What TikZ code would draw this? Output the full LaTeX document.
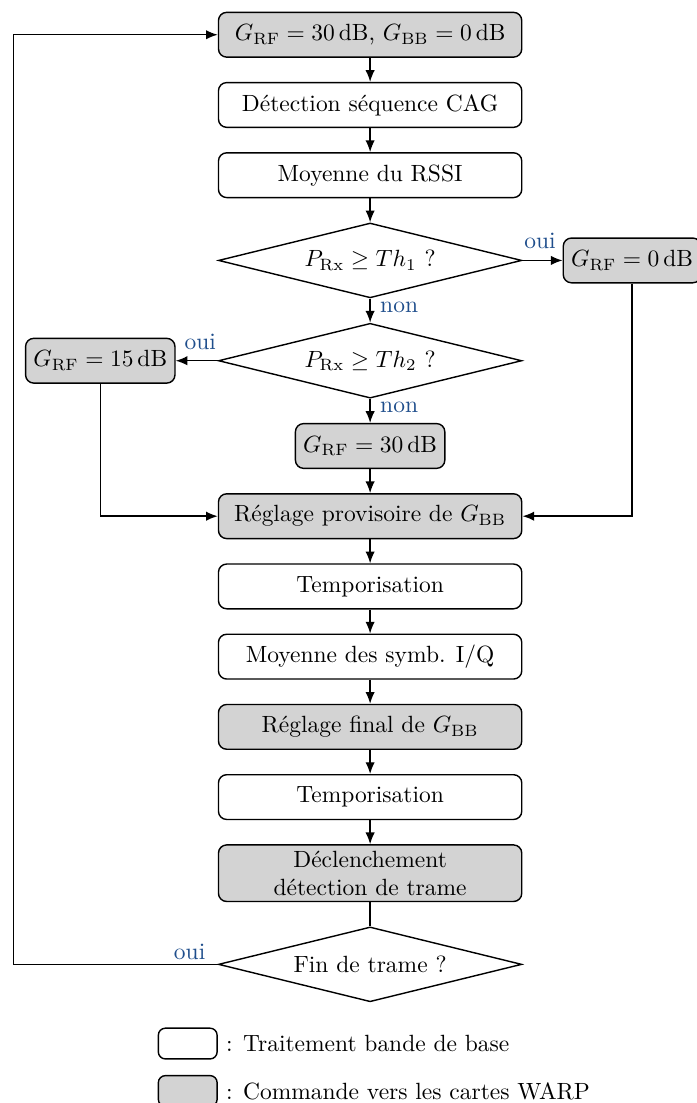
\documentclass[tikz,border=0pt]{standalone}
\usepackage{fontspec}
\usepackage{tikz}
\usetikzlibrary{arrows.meta,shapes.geometric,positioning}
\definecolor{cmdgray}{HTML}{D3D3D3}
\definecolor{labelblue}{HTML}{1F4E8C}
\tikzset{
  proc/.style={
    rectangle, rounded corners=3.5pt,
    draw=black, semithick, fill=white,
    minimum height=6.7mm, minimum width=45.4mm,
    align=center
  },
  cmd/.style={proc, fill=cmdgray},
  gain/.style={
    rectangle, rounded corners=3.5pt,
    draw=black, semithick, fill=cmdgray,
    minimum height=6.7mm
  },
  test/.style={
    diamond, aspect=4, draw=black, semithick,
    minimum width=45.4mm, minimum height=11.2mm,
    inner sep=1pt, align=center
  },
  arr/.style={-{Latex[length=5pt,width=4pt]}, semithick},
  lbl/.style={text=labelblue, inner sep=2pt},
  legbox/.style={
    rectangle, rounded corners=3pt,
    draw=black, semithick,
    minimum width=8.8mm, minimum height=4.6mm
  },
}

\begin{document}
\begin{tikzpicture}[node distance=3.6mm]

  \useasboundingbox (0,0) rectangle (10.42,-16.51);

  \node[cmd] (init) at (5.54,-0.52)
    {$G_{\mathrm{RF}} = 30\,\mathrm{dB}$, $G_{\mathrm{BB}} = 0\,\mathrm{dB}$};

  \node[proc, below=of init] (cag) {Détection séquence CAG};
  \node[proc, below=of cag] (rssi) {Moyenne du RSSI};

  \node[test, below=of rssi] (th1) {$P_{\mathrm{Rx}} \geq Th_1$ ?};
  \node[gain, right=6mm of th1] (g0) {$G_{\mathrm{RF}} = 0\,\mathrm{dB}$};

  \node[test, below=of th1] (th2) {$P_{\mathrm{Rx}} \geq Th_2$ ?};
  \node[gain, left=6.3mm of th2] (g15) {$G_{\mathrm{RF}} = 15\,\mathrm{dB}$};
  \node[gain, below=of th2] (g30) {$G_{\mathrm{RF}} = 30\,\mathrm{dB}$};

  \node[cmd, below=of g30] (prov) {Réglage provisoire de $G_{\mathrm{BB}}$};
  \node[proc, below=of prov] (tempo1) {Temporisation};
  \node[proc, below=of tempo1] (iq) {Moyenne des symb. I/Q};
  \node[cmd, below=of iq] (final) {Réglage final de $G_{\mathrm{BB}}$};
  \node[proc, below=of final] (tempo2) {Temporisation};
  \node[cmd, below=of tempo2, inner ysep=2.5pt]
    (trig) {Déclenchement\\détection de trame};

  \node[test, below=of trig] (fin) {Fin de trame ?};

  % Legende
  \node[legbox] (legw) at (2.81,-15.62) {};
  \node[right=0pt of legw] (legwtxt) {: Traitement bande de base};
  \node[legbox, fill=cmdgray] (legg) at (2.81,-16.33) {};
  \node[right=0pt of legg] (leggtxt) {: Commande vers les cartes WARP};

  % Arrows
  \draw[arr] (init) -- (cag);
  \draw[arr] (cag) -- (rssi);
  \draw[arr] (rssi) -- (th1);
  \draw[arr] (th1.east) node[above right, lbl, inner xsep=0.5pt, inner ysep=4.5pt] {oui}
    -- (g0.west);
  \draw[arr] (th1.south) node[below right, lbl, inner xsep=4pt, inner ysep=1pt] {non}
    -- (th2.north);
  \draw[arr] (th2.west) node[above left, lbl, inner xsep=0.5pt, inner ysep=4.5pt] {oui}
    -- (g15.east);
  \draw[arr] (th2.south) node[below right, lbl, inner xsep=4pt, inner ysep=1pt] {non}
    -- (g30.north);
  \draw[arr] (g30) -- (prov);
  \draw[arr] (g15.south) |- (prov.west);
  \draw[arr] (g0.south) |- (prov.east);
  \draw[arr] (prov) -- (tempo1);
  \draw[arr] (tempo1) -- (iq);
  \draw[arr] (iq) -- (final);
  \draw[arr] (final) -- (tempo2);
  \draw[arr] (tempo2) -- (trig);
  \draw[semithick] (trig.south) -- (fin.north);
  \draw[arr] (fin.west) node[above left, lbl, inner xsep=5pt, inner ysep=1.5pt] {oui}
    -- ++(-3.06,0) |- (init.west);

\end{tikzpicture}
\end{document}
